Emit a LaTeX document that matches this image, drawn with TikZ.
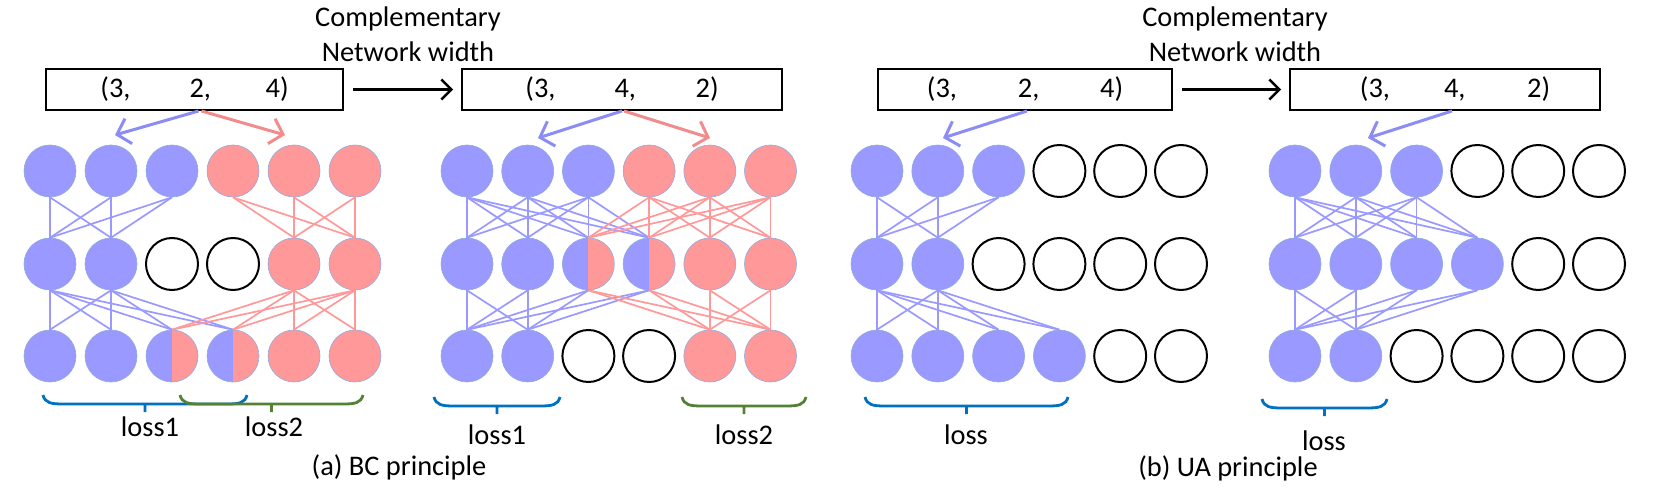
\documentclass[tikz,border=0pt]{standalone}
\usepackage{fontspec}
\setmainfont{Carlito}
\usetikzlibrary{arrows.meta}

\definecolor{nblue}{RGB}{153,153,255}
\definecolor{nred}{RGB}{255,153,153}
\definecolor{nedge}{RGB}{143,170,220}
\definecolor{ablue}{RGB}{140,140,245}
\definecolor{ared}{RGB}{242,140,140}
\definecolor{lossblue}{RGB}{0,112,192}
\definecolor{lossgreen}{RGB}{84,130,53}

\tikzset{
    every node/.style={font=\fontsize{14.2pt}{17.5pt}\selectfont},
    neuron/.style={circle, minimum size=26pt, inner sep=0pt},
    nb/.style={neuron, fill=nblue, draw=nedge, line width=0.3pt},
    nr/.style={neuron, fill=nred, draw=nedge, line width=0.3pt},
    no/.style={neuron, draw=black, line width=1pt},
    nh/.style={neuron, draw=nedge, line width=0.3pt, path picture={
        \fill[nblue] (path picture bounding box.south west) rectangle (path picture bounding box.north);
        \fill[nred] (path picture bounding box.south) rectangle (path picture bounding box.north east);}},
    bline/.style={nblue, line width=0.85pt},
    rline/.style={nred, line width=0.85pt},
    wbox/.style={draw, line width=1pt, minimum height=20.5pt, inner sep=0pt},
    warrow/.style={-{Straight Barb[length=5pt,width=10pt]}, line width=1.2pt, shorten <=4.5pt, shorten >=4pt},
    barrow/.style={-{Straight Barb[length=6pt,width=13pt]}, line width=1.5pt, ablue},
    rarrow/.style={-{Straight Barb[length=6pt,width=13pt]}, line width=1.5pt, ared},
}

\begin{document}
\begin{tikzpicture}[x=0.5pt,y=-0.5pt]
    \useasboundingbox (0,0) rectangle (1655,497);

    % width boxes
    \node[wbox, minimum width=148.5pt] (w1) at (194.5,89.5) {(3,\hspace{29.5pt}2,\hspace{27.3pt}4)};
    \node[wbox, minimum width=160pt] (w2) at (622,89.5) {(3,\hspace{29.5pt}4,\hspace{29.8pt}2)};
    \node[wbox, minimum width=147pt] (w3) at (1025,89.5) {(3,\hspace{30.5pt}2,\hspace{30.3pt}4)};
    \node[wbox, minimum width=155pt] (w4) at (1445,89.5) {\hspace*{10pt}(3,\hspace{27pt}4,\hspace{30.8pt}2)};
    \draw[warrow] (w1) -- (w2);
    \draw[warrow] (w3) -- (w4);
    \node[anchor=north, inner sep=0pt, align=center] (cw1) at (408,6) {Complementary\\Network width};
    \node[anchor=north, inner sep=0pt, align=center] (cw2) at (1235,6) {Complementary\\Network width};

    % (a) BC principle
    \foreach \typ [count=\c] in {nb,nb,nb,nr,nr,nr}
        \node[\typ] (A1\c) at ({50+61*(\c-1)},171) {};
    \foreach \typ [count=\c] in {nb,nb,no,no,nr,nr}
        \node[\typ] (A2\c) at ({50+61*(\c-1)},264) {};
    \foreach \typ [count=\c] in {nb,nb,nh,nh,nr,nr}
        \node[\typ] (A3\c) at ({50+61*(\c-1)},356) {};
    \foreach \i in {1,2,3} \foreach \j in {1,2} \draw[bline] (A1\i.south) -- (A2\j.north);
    \foreach \i in {4,5,6} \foreach \j in {5,6} \draw[rline] (A1\i.south) -- (A2\j.north);
    \foreach \i in {1,2} \foreach \j in {1,2,3,4} \draw[bline] (A2\i.south) -- (A3\j.north);
    \foreach \i in {5,6} \foreach \j in {3,4,5,6} \draw[rline] (A2\i.south) -- (A3\j.north);

    \foreach \typ [count=\c] in {nb,nb,nb,nr,nr,nr}
        \node[\typ] (B1\c) at ({467+60.7*(\c-1)},171) {};
    \foreach \typ [count=\c] in {nb,nb,nh,nh,nr,nr}
        \node[\typ] (B2\c) at ({467+60.7*(\c-1)},264) {};
    \foreach \typ [count=\c] in {nb,nb,no,no,nr,nr}
        \node[\typ] (B3\c) at ({467+60.7*(\c-1)},356) {};
    \foreach \i in {1,2,3} \foreach \j in {1,2,3,4} \draw[bline] (B1\i.south) -- (B2\j.north);
    \foreach \i in {4,5,6} \foreach \j in {3,4,5,6} \draw[rline] (B1\i.south) -- (B2\j.north);
    \foreach \i in {1,2,3,4} \foreach \j in {1,2} \draw[bline] (B2\i.south) -- (B3\j.north);
    \foreach \i in {3,4,5,6} \foreach \j in {5,6} \draw[rline] (B2\i.south) -- (B3\j.north);

    % (b) UA principle
    \foreach \typ [count=\c] in {nb,nb,nb,no,no,no}
        \node[\typ] (C1\c) at ({877+60.8*(\c-1)},171) {};
    \foreach \typ [count=\c] in {nb,nb,no,no,no,no}
        \node[\typ] (C2\c) at ({877+60.8*(\c-1)},264) {};
    \foreach \typ [count=\c] in {nb,nb,nb,nb,no,no}
        \node[\typ] (C3\c) at ({877+60.8*(\c-1)},356) {};
    \foreach \i in {1,2,3} \foreach \j in {1,2} \draw[bline] (C1\i.south) -- (C2\j.north);
    \foreach \i in {1,2} \foreach \j in {1,2,3,4} \draw[bline] (C2\i.south) -- (C3\j.north);

    \foreach \typ [count=\c] in {nb,nb,nb,no,no,no}
        \node[\typ] (D1\c) at ({1295+60.8*(\c-1)},171) {};
    \foreach \typ [count=\c] in {nb,nb,nb,nb,no,no}
        \node[\typ] (D2\c) at ({1295+60.8*(\c-1)},264) {};
    \foreach \typ [count=\c] in {nb,nb,no,no,no,no}
        \node[\typ] (D3\c) at ({1295+60.8*(\c-1)},356) {};
    \foreach \i in {1,2,3} \foreach \j in {1,2,3,4} \draw[bline] (D1\i.south) -- (D2\j.north);
    \foreach \i in {1,2,3,4} \foreach \j in {1,2} \draw[bline] (D2\i.south) -- (D3\j.north);

    % width arrows
    \coordinate (ta1) at (115,135);
    \coordinate (ta2) at (285,135);
    \coordinate (tb1) at (538,138);
    \coordinate (tb2) at (710,138);
    \coordinate (tc1) at (943,138);
    \coordinate (td1) at (1368,138);
    \draw[barrow] ([xshift=2pt]w1.south) -- (ta1);
    \draw[rarrow] ([xshift=3.5pt]w1.south) -- (ta2);
    \draw[barrow] (w2.south) -- (tb1);
    \draw[rarrow] ([xshift=1pt]w2.south) -- (tb2);
    \draw[barrow] ([xshift=1pt]w3.south) -- (tc1);
    \draw[barrow] ([xshift=3.5pt]w4.south) -- (td1);

    % braces
    \foreach \xa/\xb/\yt/\col in {43/247/395/lossblue, 180/363/395/lossgreen, 434/560/397/lossblue,
            682/806/397/lossgreen, 865/1068/397/lossblue, 1262/1387/399/lossblue}
        \draw[\col, line width=1.4pt] (\xa,\yt) .. controls +(2,8) and +(-12,0) .. (\xa+20,\yt+9)
            -- (\xb-20,\yt+9) .. controls +(12,0) and +(-2,8) .. (\xb,\yt)
            (\xa/2+\xb/2,\yt+9) -- +(0,8);
    \node (la1) at (150,427) {loss1};
    \node (la2) at (274,427) {loss2};
    \node (lb1) at (497,435) {loss1};
    \node (lb2) at (744,435) {loss2};
    \node (lc) at (966,435) {loss};
    \node (ld) at (1324,441) {loss};

    \node (capa) at (399,467) {(a) BC principle};
    \node (capb) at (1228,468) {(b) UA principle};

\end{tikzpicture}
\end{document}
